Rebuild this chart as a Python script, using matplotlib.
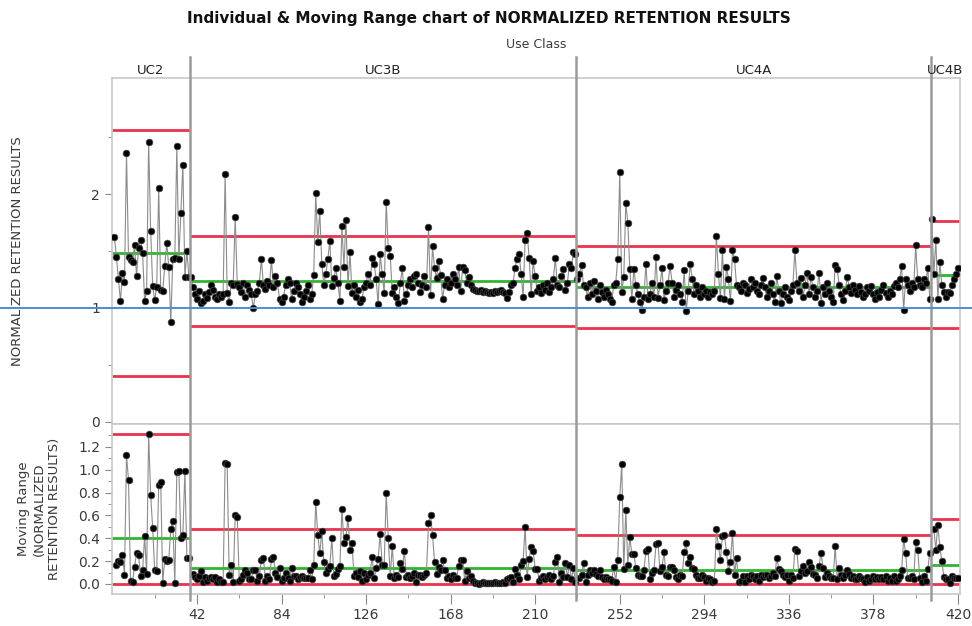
import numpy as np
import matplotlib
matplotlib.use("Agg")
import matplotlib.pyplot as plt
from matplotlib.lines import Line2D
from matplotlib.ticker import MultipleLocator, FixedLocator
import matplotlib.transforms as mtransforms

# --- DATA ---
group_names = ["UC2", "UC3B", "UC4A", "UC4B"]

uc2_values = [
    1.62, 1.45, 1.25, 1.06, 1.31, 1.23, 2.36, 1.45, 1.42, 1.40,
    1.55, 1.28, 1.53, 1.60, 1.48, 1.06, 1.15, 2.46, 1.68, 1.19,
    1.07, 1.18, 2.05, 1.16, 1.15, 1.37, 1.57, 1.36, 0.88, 1.43,
    1.44, 2.42, 1.43, 1.83, 2.26, 1.27, 1.50, 1.27,
]
uc3b_values = [
    1.27, 1.18, 1.12, 1.08, 1.15, 1.04, 1.06, 1.12, 1.09, 1.14,
    1.20, 1.16, 1.10, 1.08, 1.12, 1.10, 1.12, 2.18, 1.13, 1.05,
    1.22, 1.20, 1.80, 1.21, 1.18, 1.14, 1.22, 1.10, 1.20, 1.16,
    1.12, 1.00, 1.12, 1.15, 1.22, 1.43, 1.20, 1.17, 1.24, 1.20,
    1.42, 1.18, 1.28, 1.22, 1.08, 1.05, 1.10, 1.20, 1.25, 1.22,
    1.08, 1.15, 1.22, 1.18, 1.12, 1.05, 1.10, 1.15, 1.20, 1.08,
    1.12, 1.29, 2.01, 1.58, 1.85, 1.39, 1.20, 1.30, 1.43, 1.59,
    1.19, 1.26, 1.35, 1.22, 1.06, 1.72, 1.36, 1.77, 1.19, 1.49,
    1.13, 1.20, 1.10, 1.16, 1.05, 1.08, 1.18, 1.22, 1.30, 1.20,
    1.44, 1.39, 1.25, 1.03, 1.47, 1.30, 1.13, 1.93, 1.53, 1.46,
    1.13, 1.18, 1.10, 1.04, 1.22, 1.35, 1.06, 1.12, 1.20, 1.25,
    1.18, 1.28, 1.30, 1.22, 1.14, 1.20, 1.28, 1.18, 1.71, 1.11,
    1.54, 1.35, 1.26, 1.41, 1.29, 1.08, 1.20, 1.25, 1.18, 1.22,
    1.30, 1.25, 1.20, 1.36, 1.15, 1.36, 1.33, 1.22, 1.27, 1.20,
    1.17, 1.16, 1.15, 1.15, 1.16, 1.14, 1.15, 1.14, 1.13, 1.14,
    1.13, 1.15, 1.14, 1.15, 1.16, 1.14, 1.13, 1.09, 1.14, 1.20,
    1.22, 1.35, 1.43, 1.47, 1.30, 1.10, 1.60, 1.66, 1.44, 1.12,
    1.41, 1.28, 1.15, 1.18, 1.13, 1.20, 1.16, 1.22, 1.14, 1.18,
    1.25, 1.44, 1.20, 1.18, 1.28, 1.34, 1.16, 1.22, 1.39, 1.35,
    1.49, 1.47,
]
uc4a_values = [
    1.25, 1.30, 1.38, 1.20, 1.18, 1.10, 1.22, 1.12, 1.24, 1.15,
    1.08, 1.20, 1.14, 1.10, 1.16, 1.12, 1.08, 1.05, 1.20, 1.22,
    1.43, 2.19, 1.14, 1.27, 1.92, 1.75, 1.34, 1.08, 1.34, 1.20,
    1.12, 1.05, 0.98, 1.10, 1.39, 1.08, 1.12, 1.22, 1.10, 1.45,
    1.09, 1.20, 1.35, 1.07, 1.15, 1.22, 1.37, 1.22, 1.10, 1.16,
    1.20, 1.12, 1.05, 1.33, 0.97, 1.15, 1.39, 1.25, 1.12, 1.20,
    1.15, 1.10, 1.18, 1.12, 1.15, 1.10, 1.14, 1.12, 1.15, 1.63,
    1.30, 1.09, 1.51, 1.08, 1.36, 1.25, 1.06, 1.51, 1.43, 1.20,
    1.18, 1.15, 1.22, 1.20, 1.13, 1.17, 1.25, 1.18, 1.22, 1.15,
    1.12, 1.20, 1.26, 1.18, 1.10, 1.15, 1.22, 1.12, 1.05, 1.28,
    1.15, 1.04, 1.12, 1.18, 1.10, 1.07, 1.15, 1.20, 1.51, 1.22,
    1.15, 1.26, 1.10, 1.20, 1.31, 1.12, 1.27, 1.18, 1.10, 1.15,
    1.31, 1.04, 1.18, 1.12, 1.22, 1.15, 1.10, 1.05, 1.38, 1.34,
    1.20, 1.12, 1.07, 1.15, 1.27, 1.18, 1.13, 1.20, 1.16, 1.12,
    1.19, 1.14, 1.10, 1.12, 1.18, 1.15, 1.19, 1.12, 1.08, 1.14,
    1.10, 1.16, 1.20, 1.13, 1.10, 1.15, 1.12, 1.19, 1.22, 1.18,
    1.25, 1.37, 0.98, 1.25, 1.20, 1.15, 1.22, 1.18, 1.55, 1.25,
    1.20, 1.18, 1.25, 1.22, 1.35, 1.08,
]
uc4b_values = [
    1.78, 1.30, 1.60, 1.08, 1.40, 1.20, 1.14, 1.10, 1.14, 1.13,
    1.20, 1.25, 1.30, 1.35,
]

# control limits per use class
ind_ucl = [2.56, 1.63, 1.54, 1.76]
ind_cl = [1.48, 1.24, 1.18, 1.29]
ind_lcl = [0.40, 0.84, 0.82, 0.82]
mr_ucl = [1.31, 0.48, 0.43, 0.57]
mr_cl = [0.40, 0.14, 0.12, 0.17]
mr_lcl = [0.0, 0.0, 0.0, 0.0]

x_ticks = [42, 84, 126, 168, 210, 252, 294, 336, 378, 420]
mr_ticks = [0.0, 0.2, 0.4, 0.6, 0.8, 1.0, 1.2]

# --- STYLE ---
RED = "#e8344e"
GREEN = "#2fb62f"
SEP = "#9a9a9a"
FRAME = "#c8c8c8"
TXT = "#3a3a3a"
BLUE = "#4a8fd4"

groups = [uc2_values, uc3b_values, uc4a_values, uc4b_values]

fig = plt.figure(figsize=(9.72, 6.26), dpi=100)
W, H = 972, 626
L, R = 112 / W, 960 / W
ax1 = fig.add_axes([L, 1 - 424 / H, R - L, (424 - 78) / H])
ax2 = fig.add_axes([L, 1 - 594 / H, R - L, (594 - 424) / H], sharex=ax1)

XMIN, XMAX = -0.2, 421
start = 1
bounds = []
for gi, vals in enumerate(groups):
    n = len(vals)
    x = np.arange(start, start + n)
    lo = XMIN if gi == 0 else start - 0.5
    hi = XMAX if gi == len(groups) - 1 else start + n - 0.5
    bounds.append((lo, hi))

    # individuals
    ax1.plot(x, vals, color="#8c8c8c", lw=0.8, zorder=2)
    ax1.plot(x, vals, "o", ms=4.8, color="black", mec="#444444", mew=0.5, zorder=3)
    ax1.hlines([ind_ucl[gi], ind_lcl[gi]], lo, hi, color=RED, lw=2.0, zorder=1)
    ax1.hlines(ind_cl[gi], lo, hi, color=GREEN, lw=2.0, zorder=1)

    # moving range within the group
    mr = np.abs(np.diff(vals))
    ax2.plot(x[1:], mr, color="#8c8c8c", lw=0.8, zorder=2)
    ax2.plot(x[1:], mr, "o", ms=4.8, color="black", mec="#444444", mew=0.5, zorder=3)
    ax2.hlines([mr_ucl[gi], mr_lcl[gi]], lo, hi, color=RED, lw=2.0, zorder=1)
    ax2.hlines(mr_cl[gi], lo, hi, color=GREEN, lw=2.0, zorder=1)

    # header label
    fig.text(L + (R - L) * ((lo + hi) / 2 - XMIN) / (XMAX - XMIN), 1 - 70 / H,
             group_names[gi], ha="center", va="center", fontsize=9.5, color="#222222")
    start += n

# separators between use classes, running through header and both panels
for lo, hi in bounds[:-1]:
    xf = L + (R - L) * (hi - XMIN) / (XMAX - XMIN)
    fig.add_artist(Line2D([xf, xf], [1 - 600 / H, 1 - 57 / H], color=SEP, lw=1.8))

ax1.set_xlim(XMIN, XMAX)
ax1.set_ylim(-0.02, 3.02)
ax2.set_ylim(-0.088, 1.40)

ax1.yaxis.set_major_locator(FixedLocator([0, 1, 2]))
ax1.yaxis.set_minor_locator(FixedLocator([0.5, 1.5, 2.5]))
ax2.yaxis.set_major_locator(FixedLocator(mr_ticks))
ax2.yaxis.set_minor_locator(FixedLocator([0.1, 0.3, 0.5, 0.7, 0.9, 1.1, 1.3]))
ax2.yaxis.set_major_formatter(matplotlib.ticker.FormatStrFormatter("%.1f"))
ax2.xaxis.set_major_locator(FixedLocator(x_ticks))
ax2.xaxis.set_minor_locator(FixedLocator([21 + 42 * i for i in range(10)]))

ax1.tick_params(axis="x", which="both", bottom=False, labelbottom=False)
for ax in (ax1, ax2):
    for s in ax.spines.values():
        s.set_color(FRAME)
        s.set_linewidth(1.2)
    ax.tick_params(axis="both", which="major", length=5, color="#888888", labelsize=10,
                   labelcolor=TXT)
    ax.tick_params(axis="both", which="minor", length=3, color="#888888")
ax2.tick_params(axis="x", which="major", length=7, pad=3)

# blue reference line at 1.0 across the whole figure
blend = mtransforms.blended_transform_factory(fig.transFigure, ax1.transData)
fig.add_artist(Line2D([0, 1], [1, 1], transform=blend, color=BLUE, lw=1.4, zorder=10))

fig.text(0.503, 1 - 18 / H, "Individual & Moving Range chart of NORMALIZED RETENTION RESULTS",
         ha="center", va="center", fontsize=11, fontweight="bold", color="#111111")
fig.text(L + (R - L) / 2, 1 - 45 / H, "Use Class", ha="center", va="center",
         fontsize=9, color=TXT)
fig.text(18 / W, 1 - 251 / H, "NORMALIZED RETENTION RESULTS", rotation=90,
         ha="center", va="center", fontsize=9.5, color=TXT)
fig.text(39 / W, 1 - 509 / H, "Moving Range\n(NORMALIZED\nRETENTION RESULTS)", rotation=90,
         ha="center", va="center", fontsize=9.5, color=TXT, linespacing=1.25)

fig.savefig("out.png", dpi=100)
